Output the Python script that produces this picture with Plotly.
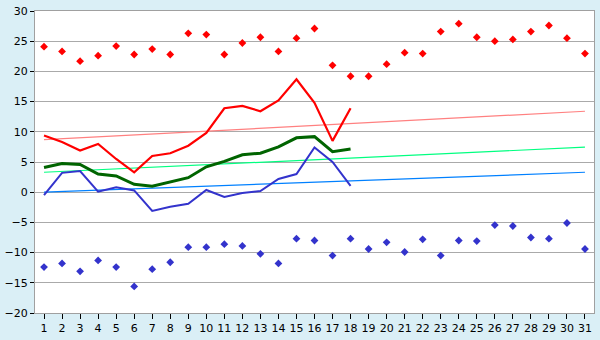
import plotly.graph_objects as go

days = list(range(1, 32))
max_pts = [24.1, 23.3, 21.7, 22.6, 24.2, 22.8, 23.7, 22.8, 26.3, 26.1,
           22.8, 24.7, 25.65, 23.3, 25.5, 27.1, 21.0, 19.2, 19.2, 21.2,
           23.1, 22.95, 26.6, 27.9, 25.65, 25.0, 25.3, 26.6, 27.6, 25.5, 22.95]
min_pts = [-12.4, -11.8, -13.1, -11.3, -12.4, -15.6, -12.75, -11.6, -9.1, -9.1,
           -8.6, -8.9, -10.2, -11.8, -7.7, -8.0, -10.5, -7.7, -9.4, -8.3,
           -9.9, -7.8, -10.5, -8.0, -8.1, -5.45, -5.6, -7.5, -7.7, -5.1, -9.4]
max_line = [9.4, 8.3, 6.9, 8.0, 5.5, 3.3, 6.0, 6.45, 7.7, 9.8,
            13.9, 14.3, 13.4, 15.2, 18.7, 14.8, 8.5, 13.9]
avg_line = [4.1, 4.75, 4.6, 3.0, 2.7, 1.3, 1.0, 1.7, 2.4, 4.2,
            5.1, 6.2, 6.45, 7.5, 9.0, 9.2, 6.7, 7.15]
min_line = [-0.5, 3.2, 3.5, 0.1, 0.8, 0.3, -3.1, -2.4, -1.9, 0.37,
            -0.8, -0.15, 0.2, 2.2, 3.0, 7.4, 5.0, 1.05]
trend_x = [1, 31]
trend_max = [8.7, 13.4]
trend_avg = [3.3, 7.45]
trend_min = [0.0, 3.3]

fig = go.Figure()
fig.add_trace(go.Scatter(x=trend_x, y=trend_max, mode="lines",
                         line=dict(color="#FF8080", width=1.2)))
fig.add_trace(go.Scatter(x=trend_x, y=trend_avg, mode="lines",
                         line=dict(color="#00FF80", width=1.2)))
fig.add_trace(go.Scatter(x=trend_x, y=trend_min, mode="lines",
                         line=dict(color="#0080FF", width=1.2)))
fig.add_trace(go.Scatter(x=days, y=max_pts, mode="markers",
                         marker=dict(symbol="diamond", size=6, color="#FF0000")))
fig.add_trace(go.Scatter(x=days, y=min_pts, mode="markers",
                         marker=dict(symbol="diamond", size=6, color="#3333CC")))
fig.add_trace(go.Scatter(x=days[:len(max_line)], y=max_line, mode="lines",
                         line=dict(color="#FF0000", width=2.2)))
fig.add_trace(go.Scatter(x=days[:len(avg_line)], y=avg_line, mode="lines",
                         line=dict(color="#006400", width=3)))
fig.add_trace(go.Scatter(x=days[:len(min_line)], y=min_line, mode="lines",
                         line=dict(color="#3333CC", width=2)))

fig.update_layout(
    width=600, height=340,
    margin=dict(l=26, r=5, t=5, b=20),
    paper_bgcolor="#DAEFF6",
    plot_bgcolor="#FFFFFF",
    showlegend=False,
    font=dict(family="DejaVu Sans", size=11, color="#000000"),
)
fig.update_xaxes(range=[0.5, 31.5], tickvals=days, showgrid=False,
                 ticks="outside", ticklen=5, tickcolor="#000000",
                 showline=True, linecolor="#A0A0A0", linewidth=1, mirror=True,
                 zeroline=False, fixedrange=True, ticklabeloverflow="allow")
fig.update_yaxes(range=[-20, 30], dtick=5, showgrid=True, gridcolor="#AAAAAA",
                 gridwidth=1, ticks="outside", ticklen=4, tickcolor="#000000",
                 showline=True, linecolor="#A0A0A0", linewidth=1, mirror=True,
                 zeroline=False, fixedrange=True, ticklabeloverflow="allow")

fig.write_html("out.html", config={"displayModeBar": False})
